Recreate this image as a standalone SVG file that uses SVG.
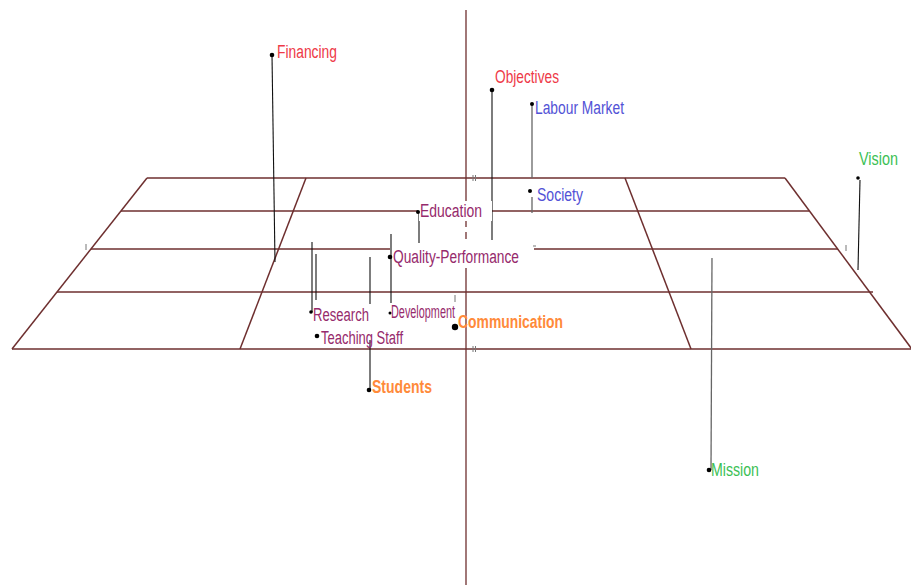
<svg xmlns="http://www.w3.org/2000/svg" width="911" height="585" viewBox="0 0 911 585">
  <style>
    .grid { stroke: #6e2f2f; stroke-width: 1.5; fill: none; }
    .axis { stroke: #6e2f2f; stroke-width: 1.3; fill: none; }
    .tick { stroke: #777; stroke-width: 1; }
    .lead { stroke: #111; stroke-width: 1.1; fill: none; }
    .lead-grey { stroke: #666; stroke-width: 1.3; fill: none; }
    .dot { fill: #000; }
    .mask { fill: #fff; }
    text { font-family: "Liberation Sans", Arial, sans-serif; font-size: 18px; }
    .red { fill: #ee3a48; }
    .blue { fill: #5252d6; }
    .green { fill: #3cbf55; }
    .purple { fill: #962a6c; }
    .orange { fill: #ff8a3a; font-weight: bold; }
  </style>

  <!-- perspective grid -->
  <g id="grid">
    <line class="grid" x1="147" y1="178" x2="785" y2="178"/>
    <line class="grid" x1="121" y1="211" x2="418" y2="211"/>
    <line class="grid" x1="492" y1="211" x2="809" y2="211"/>
    <line class="grid" x1="91" y1="249" x2="390" y2="249"/>
    <line class="grid" x1="534" y1="249" x2="838" y2="249"/>
    <line class="grid" x1="57" y1="292" x2="873" y2="292"/>
    <line class="grid" x1="12" y1="349" x2="911" y2="349"/>
    <line class="grid" x1="147" y1="178" x2="12" y2="349"/>
    <line class="grid" x1="785" y1="178" x2="920" y2="360"/>
    <line class="grid" x1="306" y1="178" x2="240" y2="349"/>
    <line class="grid" x1="625" y1="178" x2="691" y2="349"/>
  </g>

  <!-- vertical axis -->
  <g id="axis">
    <line class="axis" x1="466" y1="10" x2="466" y2="196"/>
    <line class="axis" x1="466" y1="196" x2="466" y2="272" stroke-dasharray="7 5"/>
    <line class="axis" x1="466" y1="272" x2="466" y2="585"/>
    <line class="tick" x1="473" y1="175" x2="473" y2="181"/>
    <line class="tick" x1="475.5" y1="175" x2="475.5" y2="181"/>
    <line class="tick" x1="473" y1="346" x2="473" y2="352"/>
    <line class="tick" x1="475.5" y1="346" x2="475.5" y2="352"/>
    <line class="tick" x1="86" y1="244" x2="86" y2="250"/>
    <line class="tick" x1="846" y1="245" x2="846" y2="251"/>
    <line class="tick" x1="455" y1="295" x2="455" y2="302"/>
    <line class="tick" x1="533" y1="246" x2="536" y2="246"/>
  </g>

  <!-- leader lines -->
  <g id="connectors">
    <line class="lead" x1="272" y1="55" x2="275" y2="262"/>
    <line class="lead" x1="492" y1="90" x2="492" y2="240"/>
    <line class="lead-grey" x1="532" y1="104" x2="532" y2="178"/>
    <line class="lead-grey" x1="532" y1="197" x2="532" y2="213"/>
    <line class="lead" x1="419" y1="212" x2="419" y2="243"/>
    <line class="lead" x1="391" y1="234" x2="391" y2="303"/>
    <line class="lead" x1="312" y1="242" x2="312" y2="312"/>
    <line class="lead" x1="316" y1="254" x2="316" y2="300" stroke="#7a3a3a"/>
    <line class="lead" x1="370" y1="257" x2="370" y2="304"/>
    <line class="lead" x1="370" y1="340" x2="370" y2="390"/>
    <line class="lead-grey" x1="712" y1="258" x2="711" y2="470"/>
    <line class="lead" x1="860" y1="180" x2="858" y2="270"/>
  </g>

  <!-- labels -->
  <g id="financing">
    <circle class="dot" cx="272" cy="55" r="2.3"/>
    <text class="red" x="277" y="58" textLength="60" lengthAdjust="spacingAndGlyphs">Financing</text>
  </g>
  <g id="objectives">
    <circle class="dot" cx="492" cy="90" r="2.3"/>
    <text class="red" x="495" y="83" textLength="64" lengthAdjust="spacingAndGlyphs">Objectives</text>
  </g>
  <g id="labour-market">
    <circle class="dot" cx="532" cy="104" r="2"/>
    <text class="blue" x="535" y="114" textLength="89" lengthAdjust="spacingAndGlyphs">Labour Market</text>
  </g>
  <g id="society">
    <circle class="dot" cx="530" cy="191" r="2"/>
    <text class="blue" x="537" y="201" textLength="46" lengthAdjust="spacingAndGlyphs">Society</text>
  </g>
  <g id="vision">
    <circle class="dot" cx="858" cy="178" r="1.8"/>
    <text class="green" x="859" y="165" textLength="39" lengthAdjust="spacingAndGlyphs">Vision</text>
  </g>
  <g id="education">
    <rect class="mask" x="419" y="201" width="73" height="20"/>
    <circle class="dot" cx="418" cy="212" r="2"/>
    <text class="purple" x="420" y="217" textLength="62" lengthAdjust="spacingAndGlyphs">Education</text>
  </g>
  <g id="quality-performance">
    <rect class="mask" x="392" y="243" width="141" height="24"/>
    <circle class="dot" cx="390" cy="257" r="2.3"/>
    <text class="purple" x="393" y="263" textLength="126" lengthAdjust="spacingAndGlyphs">Quality-Performance</text>
  </g>
  <g id="research">
    <circle class="dot" cx="311" cy="312" r="1.8"/>
    <text class="purple" x="313" y="321" textLength="56" lengthAdjust="spacingAndGlyphs">Research</text>
  </g>
  <g id="development">
    <circle class="dot" cx="390" cy="313" r="1.5"/>
    <text class="purple" x="391" y="318" font-size="14" textLength="64" lengthAdjust="spacingAndGlyphs">Development</text>
  </g>
  <g id="teaching-staff">
    <circle class="dot" cx="317" cy="336" r="2.3"/>
    <text class="purple" x="321" y="344" textLength="82" lengthAdjust="spacingAndGlyphs">Teaching Staff</text>
  </g>
  <g id="communication">
    <circle class="dot" cx="455" cy="327" r="3.2"/>
    <text class="orange" x="458" y="328" textLength="105" lengthAdjust="spacingAndGlyphs">Communication</text>
  </g>
  <g id="students">
    <circle class="dot" cx="369" cy="390" r="2.3"/>
    <text class="orange" x="372" y="393" textLength="60" lengthAdjust="spacingAndGlyphs">Students</text>
  </g>
  <g id="mission">
    <circle class="dot" cx="709" cy="470" r="2.3"/>
    <text class="green" x="711" y="476" textLength="48" lengthAdjust="spacingAndGlyphs">Mission</text>
  </g>
</svg>
